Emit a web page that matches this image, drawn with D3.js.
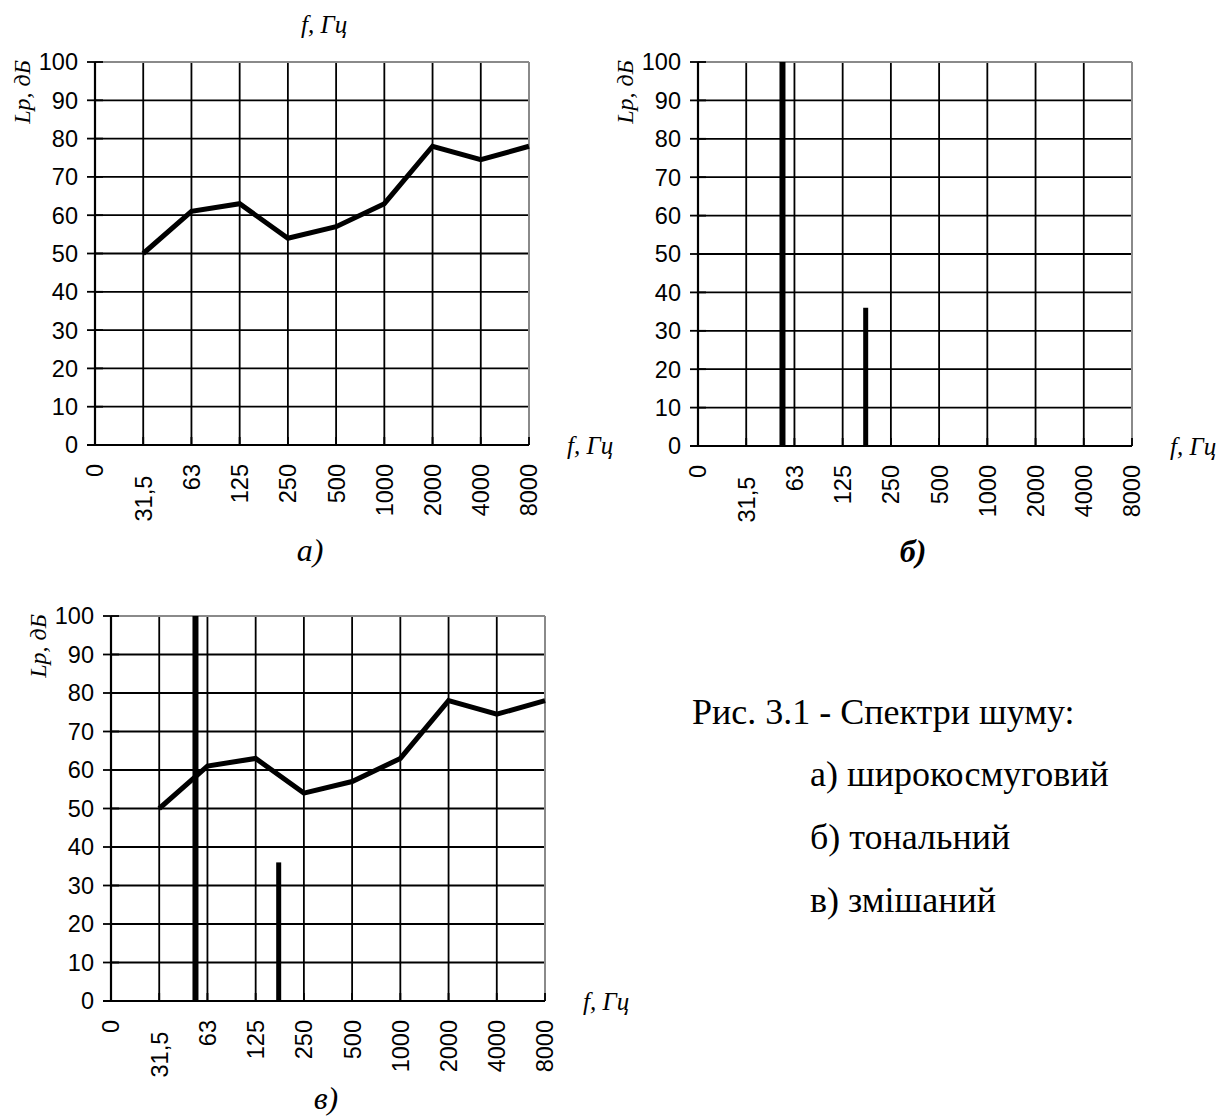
<!DOCTYPE html>
<html>
<head>
<meta charset="utf-8">
<script src="https://cdn.jsdelivr.net/npm/d3@7"></script>
<style>
  html, body { margin: 0; padding: 0; background: #fff; }
  svg { display: block; }
</style>
</head>
<body>
<svg id="chart" width="1227" height="1119"></svg>
<script>
// ---- data ----
const categories = ["0", "31,5", "63", "125", "250", "500", "1000", "2000", "4000", "8000"];
const broadbandFreqs = ["31,5", "63", "125", "250", "500", "1000", "2000", "4000", "8000"];
const broadbandLevels = [50, 61, 63, 54, 57, 63, 78, 74.5, 78];
const toneFreqs = [53, 175];
const toneLevels = [100, 36];
const yTicks = [0, 10, 20, 30, 40, 50, 60, 70, 80, 90, 100];
const axisTitleX = "f, Гц";
const axisTitleY = "Lp, дБ";
const captionTitle = "Рис. 3.1 - Спектри шуму:";
const captionItems = ["а) широкосмуговий", "б) тональний", "в) змішаний"];

const svg = d3.select("#chart");
const sansFont = "'Liberation Sans', Arial, sans-serif";
const serifFont = "'Liberation Serif', 'Times New Roman', serif";

function drawPanel(opts) {
  const { left, top, width, height, showLine, showTones, topTitle, panelLabel, labelBold, labelOffset } = opts;
  const g = svg.append("g").attr("transform", `translate(${left},${top})`);
  const x = d3.scalePoint().domain(categories).range([0, width]);
  const y = d3.scaleLinear().domain([0, 100]).range([height, 0]);
  const xf = d3.scaleLog().domain([31.5, 8000]).range([x("31,5"), x("8000")]);

  // horizontal grid lines (inner)
  g.selectAll(".hgrid").data(yTicks.filter(v => v > 0 && v < 100)).enter()
    .append("line")
    .attr("x1", 0).attr("x2", width)
    .attr("y1", d => y(d)).attr("y2", d => y(d))
    .attr("stroke", "#000").attr("stroke-width", 1.8);

  // vertical grid lines (inner)
  g.selectAll(".vgrid").data(categories.slice(1, -1)).enter()
    .append("line")
    .attr("x1", d => x(d)).attr("x2", d => x(d))
    .attr("y1", 0).attr("y2", height)
    .attr("stroke", "#000").attr("stroke-width", 1.8);

  // top and right border (gray)
  g.append("line").attr("x1", 0).attr("x2", width).attr("y1", y(100)).attr("y2", y(100))
    .attr("stroke", "#8a8a8a").attr("stroke-width", 2);
  g.append("line").attr("x1", width).attr("x2", width).attr("y1", 0).attr("y2", height)
    .attr("stroke", "#8a8a8a").attr("stroke-width", 2);

  // y ticks (crossing the axis)
  g.selectAll(".ytick").data(yTicks).enter()
    .append("line")
    .attr("x1", -8).attr("x2", 8)
    .attr("y1", d => y(d)).attr("y2", d => y(d))
    .attr("stroke", "#000").attr("stroke-width", 1.8);
  // x ticks (inward)
  g.selectAll(".xtick").data(categories).enter()
    .append("line")
    .attr("x1", d => x(d)).attr("x2", d => x(d))
    .attr("y1", height).attr("y2", height - 8)
    .attr("stroke", "#000").attr("stroke-width", 1.8);

  // axes
  g.append("line").attr("x1", 0).attr("x2", 0).attr("y1", 0).attr("y2", height)
    .attr("stroke", "#000").attr("stroke-width", 2.2);
  g.append("line").attr("x1", -8).attr("x2", width).attr("y1", height).attr("y2", height)
    .attr("stroke", "#000").attr("stroke-width", 2.2);

  // y tick labels
  g.selectAll(".ylab").data(yTicks).enter()
    .append("text")
    .attr("x", -17).attr("y", d => y(d)).attr("dy", "0.36em")
    .attr("text-anchor", "end")
    .attr("font-family", sansFont).attr("font-size", 23.5)
    .text(d => d);

  // x tick labels (rotated)
  g.selectAll(".xlab").data(categories).enter()
    .append("text")
    .attr("transform", d => `translate(${x(d)},${height + 19}) rotate(-90)`)
    .attr("dy", "0.36em")
    .attr("dx", d => d === "31,5" ? "-0.5em" : 0)
    .attr("text-anchor", "end")
    .attr("font-family", sansFont).attr("font-size", 23.5)
    .text(d => d);

  // y axis title
  g.append("text")
    .attr("transform", `translate(${-73},${30}) rotate(-90)`)
    .attr("dy", "0.35em")
    .attr("text-anchor", "middle")
    .attr("font-family", serifFont).attr("font-style", "italic").attr("font-size", 24)
    .text(axisTitleY);

  // x axis title right
  g.append("text")
    .attr("x", width + 38).attr("y", height + 9)
    .attr("font-family", serifFont).attr("font-style", "italic").attr("font-size", 25)
    .text(axisTitleX);

  if (topTitle) {
    g.append("text")
      .attr("x", x("500") - 12).attr("y", -29)
      .attr("text-anchor", "middle")
      .attr("font-family", serifFont).attr("font-style", "italic").attr("font-size", 25)
      .text(axisTitleX);
  }

  // tonal components
  if (showTones) {
    const widths = [6, 5];
    g.selectAll(".tone").data(toneFreqs).enter()
      .append("rect")
      .attr("x", (d, i) => xf(d) - widths[i] / 2)
      .attr("width", (d, i) => widths[i])
      .attr("y", (d, i) => y(toneLevels[i]))
      .attr("height", (d, i) => height - y(toneLevels[i]))
      .attr("fill", "#000");
  }

  // broadband line
  if (showLine) {
    const line = d3.line().x((d, i) => x(broadbandFreqs[i])).y(d => y(d));
    g.append("path")
      .datum(broadbandLevels)
      .attr("d", line)
      .attr("fill", "none").attr("stroke", "#000")
      .attr("stroke-width", 5).attr("stroke-linejoin", "miter");
  }

  // panel label
  g.append("text")
    .attr("x", width / 2 - 2).attr("y", height + labelOffset)
    .attr("text-anchor", "middle")
    .attr("font-family", serifFont).attr("font-style", "italic")
    .attr("font-weight", labelBold ? "bold" : "normal")
    .attr("font-size", 32)
    .text(panelLabel);
}

drawPanel({ left: 95, top: 62, width: 434, height: 383, showLine: true, showTones: false, topTitle: true, panelLabel: "а)", labelBold: false, labelOffset: 116 });
drawPanel({ left: 698, top: 62, width: 434, height: 384, showLine: false, showTones: true, topTitle: false, panelLabel: "б)", labelBold: true, labelOffset: 116 });
drawPanel({ left: 111, top: 616, width: 434, height: 385, showLine: true, showTones: true, topTitle: false, panelLabel: "в)", labelBold: false, labelOffset: 108 });

// caption
const cap = svg.append("g").attr("font-family", serifFont).attr("font-size", 36).attr("fill", "#000");
cap.append("text").attr("x", 692).attr("y", 724).text(captionTitle);
cap.selectAll(".item").data(captionItems).enter()
  .append("text")
  .attr("x", 810)
  .attr("y", (d, i) => 786 + i * 63)
  .text(d => d);
</script>
</body>
</html>
